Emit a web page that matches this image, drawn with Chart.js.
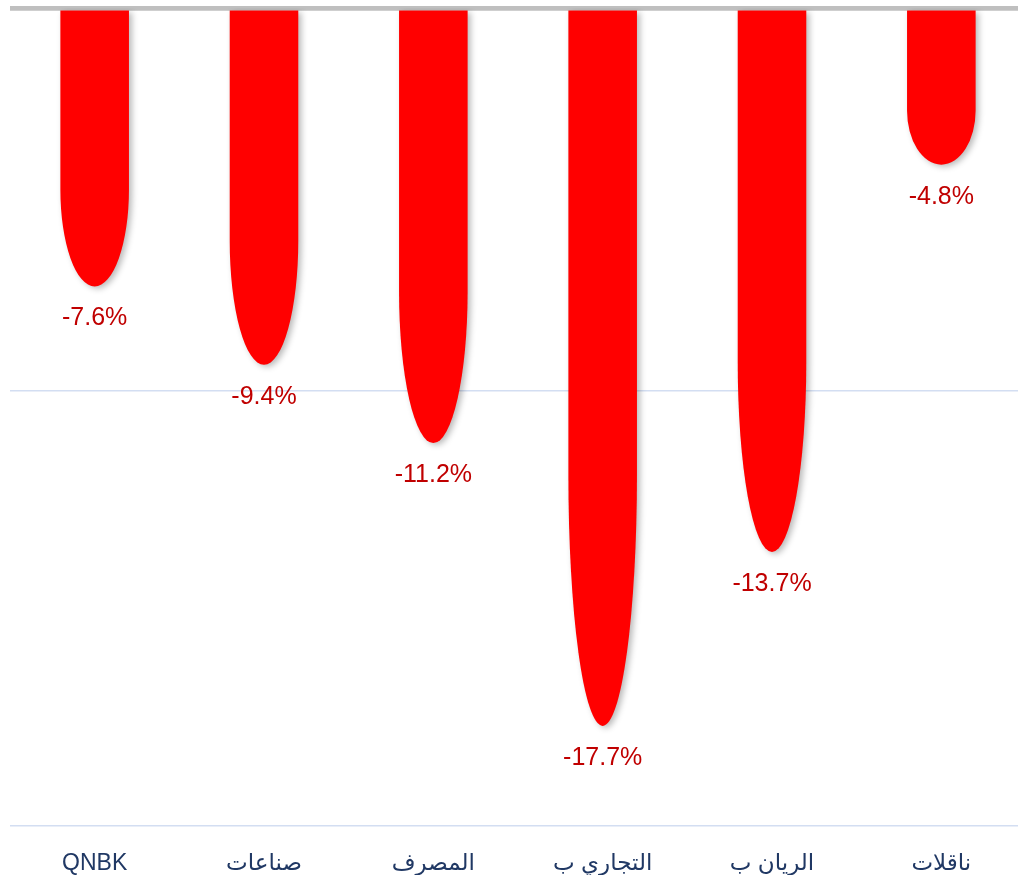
<!DOCTYPE html>
<html>
<head>
<meta charset="utf-8">
<script src="https://cdn.jsdelivr.net/npm/chart.js@4.4.0/dist/chart.umd.min.js"></script>
<style>
  html, body { margin: 0; padding: 0; background: #fff; overflow: hidden; }
  #wrap { width: 1030px; height: 875px; }
</style>
</head>
<body>
<div id="wrap"><canvas id="chart" width="1030" height="875"></canvas></div>
<script>
// data
var categories = ['QNBK', 'صناعات', 'المصرف', 'التجاري ب', 'الريان ب', 'ناقلات'];
var changes    = [-7.6, -9.4, -11.2, -17.7, -13.7, -4.8];
var yTicks     = [-20, -10];
var yMin = -20, yMax = -1.2;

// bars with an elliptical tip, drawn from the library's own bar elements
var tipBars = {
  id: 'tipBars',
  beforeDatasetDraw: function(chart, args) {
    var ctx = chart.ctx, area = chart.chartArea;
    var meta = args.meta;
    ctx.save();
    ctx.beginPath();
    ctx.rect(area.left, area.top, area.right - area.left, area.bottom - area.top);
    ctx.clip();
    meta.data.forEach(function(bar) {
      var p = bar.getProps(['x', 'y', 'width'], true);
      var top = area.top + 2.5;
      var half = p.width / 2;
      var ry = 0.35 * (p.y - top);
      ctx.beginPath();
      ctx.moveTo(p.x - half, top);
      ctx.lineTo(p.x - half, p.y - ry);
      ctx.ellipse(p.x, p.y - ry, half, ry, 0, Math.PI, 0, true);
      ctx.lineTo(p.x + half, top);
      ctx.closePath();
      ctx.shadowColor = 'rgba(0,0,0,0.28)';
      ctx.shadowBlur = 6;
      ctx.shadowOffsetX = 3;
      ctx.shadowOffsetY = 2;
      ctx.fillStyle = '#ff0000';
      ctx.fill();
    });
    ctx.restore();
    return false;
  },
  afterDatasetsDraw: function(chart) {
    var ctx = chart.ctx;
    var meta = chart.getDatasetMeta(0);
    ctx.save();
    ctx.font = '25px "Liberation Sans", Arial, sans-serif';
    ctx.fillStyle = '#c00000';
    ctx.textAlign = 'center';
    ctx.textBaseline = 'middle';
    meta.data.forEach(function(bar, i) {
      ctx.fillText(changes[i].toFixed(1) + '%', bar.x, bar.y + 32);
    });
    ctx.restore();
  }
};

new Chart(document.getElementById('chart'), {
  type: 'bar',
  data: {
    labels: categories,
    datasets: [{
      data: changes,
      backgroundColor: '#ff0000',
      barPercentage: 0.405,
      categoryPercentage: 1
    }]
  },
  options: {
    responsive: false,
    animation: false,
    layout: { padding: { left: 10, right: 4, top: 8, bottom: 0 } },
    plugins: {
      legend: { display: false },
      tooltip: { enabled: false }
    },
    scales: {
      x: {
        grid: { display: false },
        border: { display: false },
        ticks: {
          color: '#203864',
          padding: 16,
          maxRotation: 0,
          font: { family: '"Liberation Sans", "DejaVu Sans", sans-serif', size: 23 }
        },
        afterFit: function(scale) { scale.height = 49; }
      },
      y: {
        min: yMin, max: yMax,
        afterBuildTicks: function(scale) {
          scale.ticks = yTicks.concat([yMax]).map(function(v){ return { value: v }; });
        },
        afterFit: function(scale) { scale.width = 0; },
        ticks: { display: false },
        border: { display: false },
        grid: {
          drawTicks: false,
          color: function(c) { return c.tick && c.tick.value === yMax ? '#bfbfbf' : '#d3def2'; },
          lineWidth: function(c) { return c.tick && c.tick.value === yMax ? 4.7 : 1.5; }
        }
      }
    }
  },
  plugins: [tipBars]
});
</script>
</body>
</html>
